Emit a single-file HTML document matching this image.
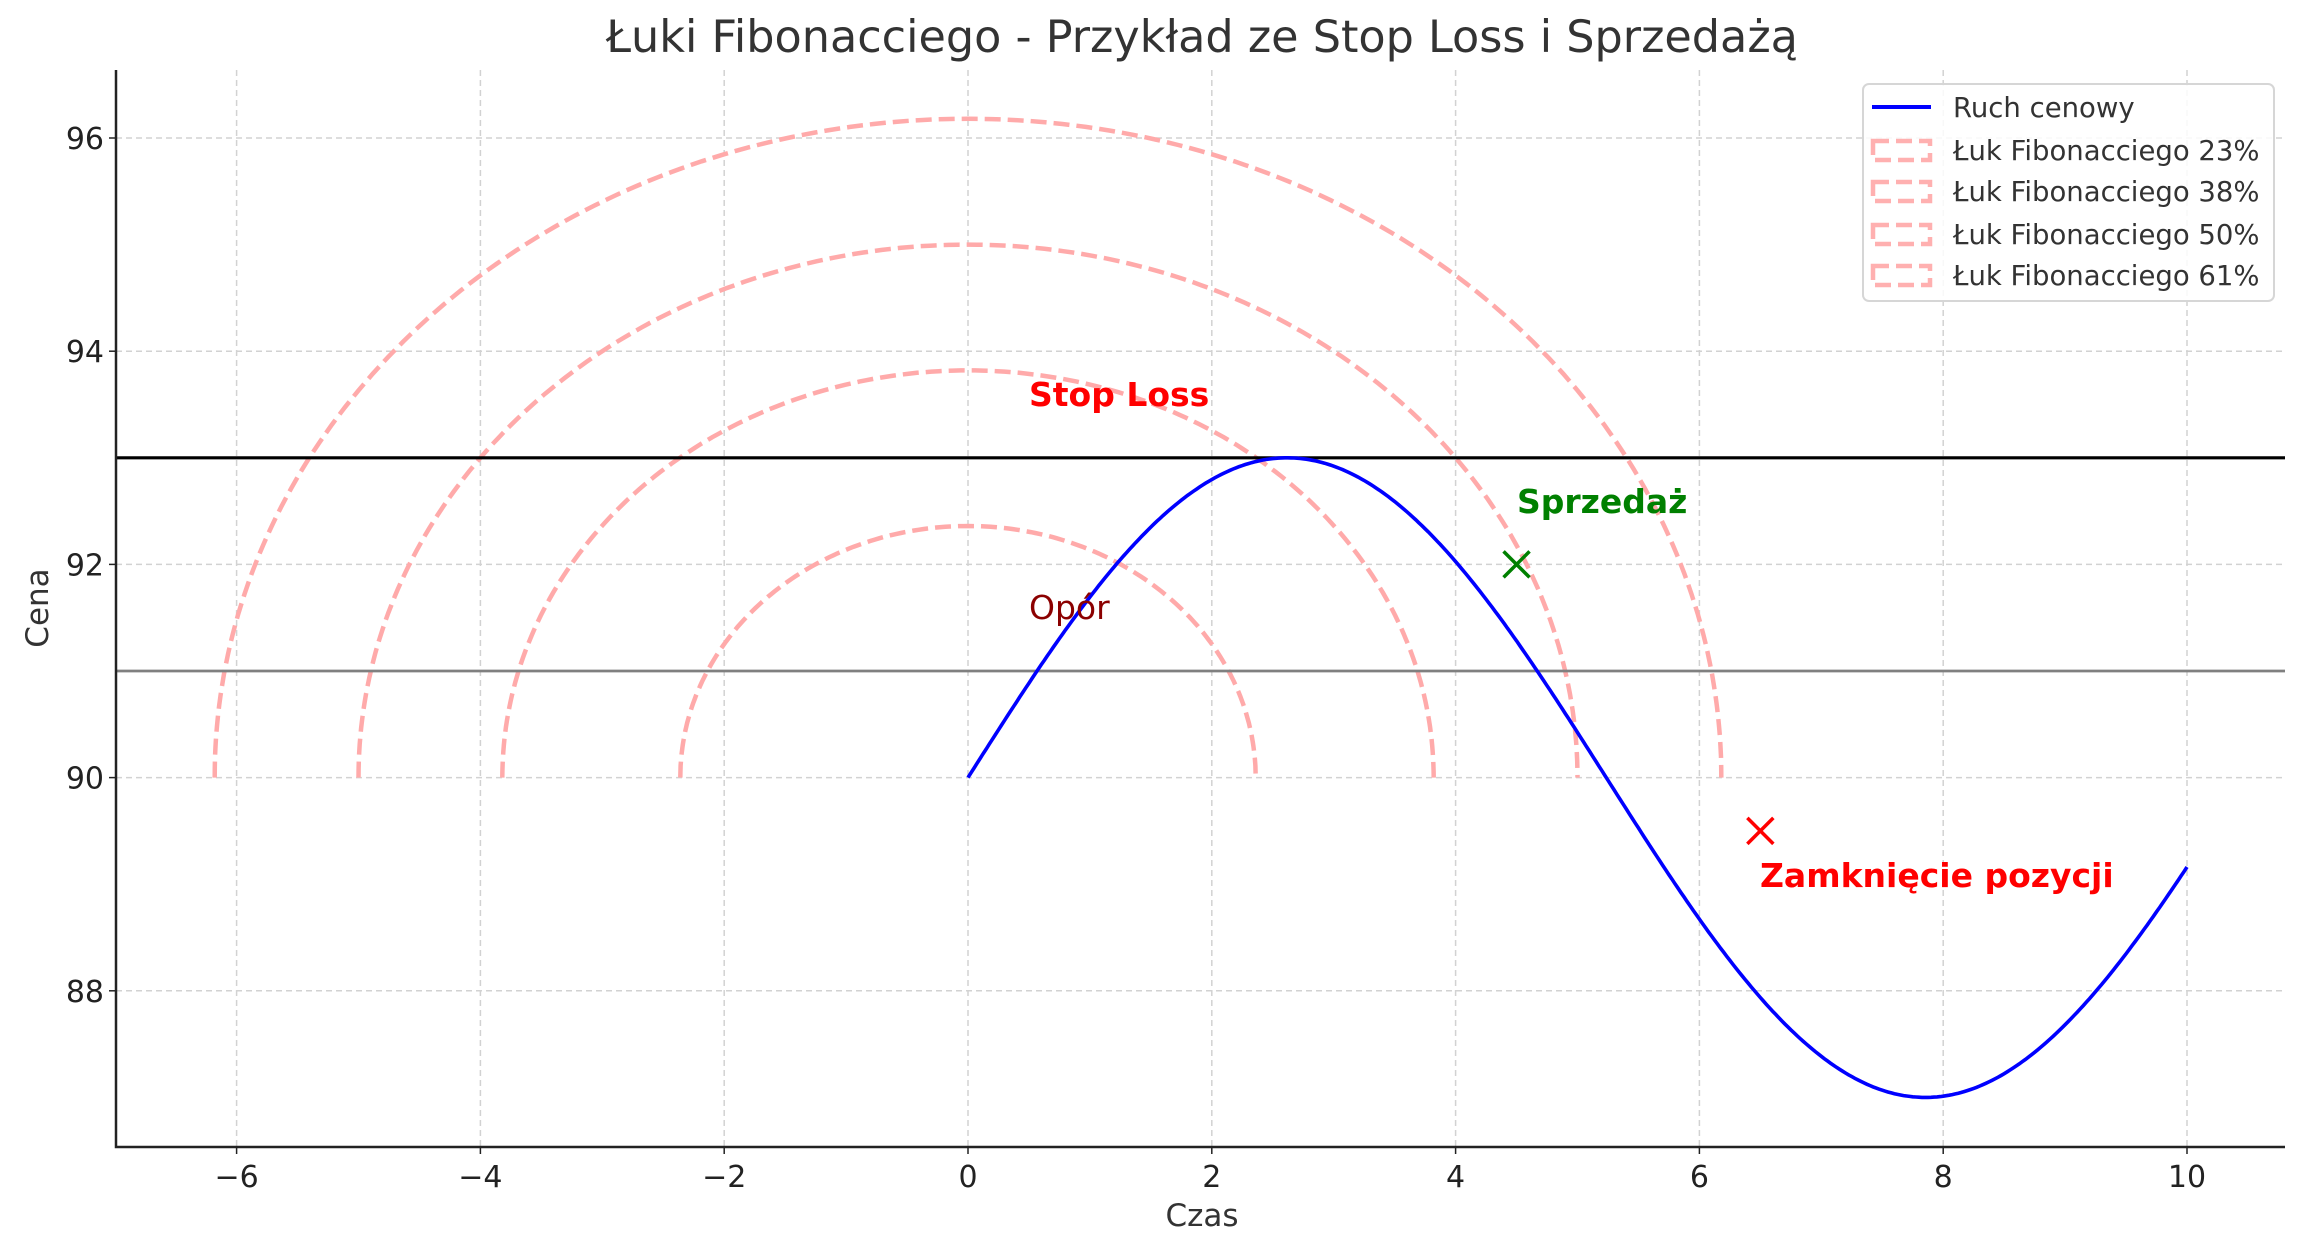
<!DOCTYPE html>
<html><head><meta charset="utf-8"><style>html,body{margin:0;padding:0;background:#fff}svg{display:block}</style></head>
<body>
<svg id="s" xmlns="http://www.w3.org/2000/svg" width="2306" height="1255" viewBox="0 0 2306 1255" font-family="DejaVu Sans, Liberation Sans, sans-serif">
<g id="grid" stroke="#d2d2d2" stroke-width="1.5" stroke-dasharray="6,4"></g>
<g id="plot"></g>
<g fill="#333">
<text x="1202" y="52" text-anchor="middle" font-size="44.5">Łuki Fibonacciego - Przykład ze Stop Loss i Sprzedażą</text>
<text x="1202" y="1226" text-anchor="middle" font-size="31">Czas</text>
<text transform="translate(48,608) rotate(-90)" text-anchor="middle" font-size="31">Cena</text>
</g>
<g id="ticks" fill="#222" font-size="30"></g>
<g font-size="33" font-weight="bold">
<text x="1029" y="406" fill="red">Stop Loss</text>
<text x="1517" y="513" fill="green">Sprzedaż</text>
<text x="1029" y="619" fill="#8b0000" font-weight="normal">Opór</text>
<text x="1760" y="887" fill="red">Zamknięcie pozycji</text>
</g>
<g>
<rect x="1863" y="84" width="411" height="217" rx="6" fill="#fff" fill-opacity="0.85" stroke="#d6d6d6" stroke-width="2"/>
<line x1="1872" y1="107" x2="1931" y2="107" stroke="blue" stroke-width="4"/>
<g stroke="#ffb0b0" stroke-width="4.5" fill="none" stroke-dasharray="16,7">
<rect x="1873" y="141" width="57" height="19"/><rect x="1873" y="182" width="57" height="19"/>
<rect x="1873" y="225" width="57" height="19"/><rect x="1873" y="266" width="57" height="19"/>
</g>
<g font-size="27.5" fill="#333">
<text x="1953" y="117">Ruch cenowy</text>
<text x="1953" y="160">Łuk Fibonacciego 23%</text>
<text x="1953" y="201">Łuk Fibonacciego 38%</text>
<text x="1953" y="244">Łuk Fibonacciego 50%</text>
<text x="1953" y="285">Łuk Fibonacciego 61%</text>
</g>
</g>
</svg>
<script>
const NS="http://www.w3.org/2000/svg";
const X=x=>968+121.9*x, Y=y=>138+(96-y)*106.6;
const L=116,R=2285,T=70,B=1147;
function el(p,t,a){const e=document.createElementNS(NS,t);for(const k in a)e.setAttribute(k,a[k]);p.appendChild(e);return e;}
const g=document.getElementById('grid'),pl=document.getElementById('plot'),tk=document.getElementById('ticks');
for(let x=-6;x<=10;x+=2){el(g,'line',{x1:X(x),x2:X(x),y1:T,y2:B});
 el(tk,'line',{x1:X(x),x2:X(x),y1:B,y2:B+7,stroke:'#222','stroke-width':1.5});
 const t=el(tk,'text',{x:X(x),y:B+40,'text-anchor':'middle'});t.textContent=(x<0?'\u2212'+(-x):x);}
for(let y=88;y<=96;y+=2){el(g,'line',{x1:L,x2:R,y1:Y(y),y2:Y(y)});
 el(tk,'line',{x1:L-7,x2:L,y1:Y(y),y2:Y(y),stroke:'#222','stroke-width':1.5});
 const t=el(tk,'text',{x:L-12,y:Y(y)+11,'text-anchor':'end'});t.textContent=y;}
[2.36,3.82,5,6.18].forEach(r=>{let d='';for(let i=0;i<=200;i++){const a=Math.PI*i/200;d+=(i?'L':'M')+X(-r*Math.cos(a)).toFixed(1)+','+Y(90+r*Math.sin(a)).toFixed(1);}
 el(pl,'path',{d,fill:'none',stroke:'#ffaaaa','stroke-width':4.5,'stroke-dasharray':'16,7'});});
el(pl,'line',{x1:L,x2:R,y1:Y(93),y2:Y(93),stroke:'#000','stroke-width':3.2});
el(pl,'line',{x1:L,x2:R,y1:Y(91),y2:Y(91),stroke:'#808080','stroke-width':2.8});
let d='';for(let i=0;i<=400;i++){const x=10*i/400;d+=(i?'L':'M')+X(x).toFixed(1)+','+Y(90+3*Math.sin(0.6*x)).toFixed(1);}
el(pl,'path',{d,fill:'none',stroke:'blue','stroke-width':3.6});
[[4.5,92,'green'],[6.5,89.5,'red']].forEach(([x,y,c])=>{const cx=X(x),cy=Y(y),s=13;
 el(pl,'path',{d:`M${cx-s},${cy-s}L${cx+s},${cy+s}M${cx-s},${cy+s}L${cx+s},${cy-s}`,stroke:c,'stroke-width':3.5});});
el(pl,'path',{d:`M${L},${T}V${B}H${R}`,fill:'none',stroke:'#222','stroke-width':2.5});
</script>
</body></html>
